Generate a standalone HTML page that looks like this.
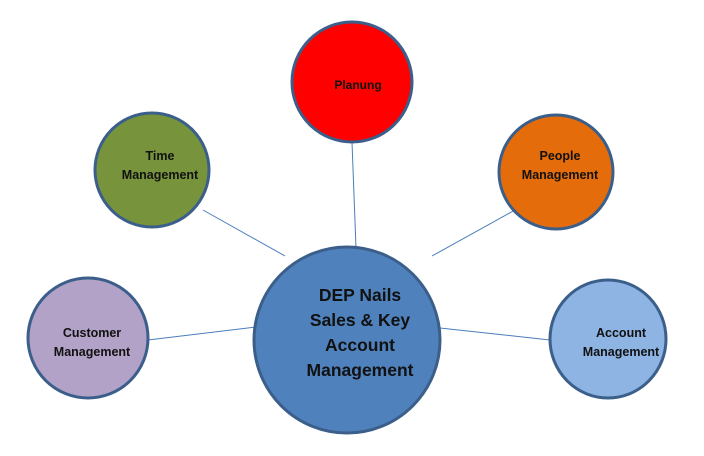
<!DOCTYPE html>
<html><head><meta charset="utf-8"><style>
html,body{margin:0;padding:0;background:#fff}
svg{display:block}
text{font-family:"Liberation Sans",sans-serif;fill:#111;text-anchor:middle;font-weight:bold}
</style></head><body>
<svg width="704" height="456" viewBox="0 0 704 456" xmlns="http://www.w3.org/2000/svg">
<g stroke="#4a7ebb" stroke-width="1">
<line x1="352" y1="142" x2="356" y2="248"/>
<line x1="203" y1="210" x2="285" y2="256"/>
<line x1="515" y1="210" x2="432" y2="256"/>
<line x1="148" y1="340" x2="256" y2="327"/>
<line x1="550" y1="340" x2="440" y2="328"/>
</g>
<g stroke="#3b5f8a" stroke-width="3">
<ellipse cx="352" cy="82" rx="60" ry="60" fill="#ff0000"/>
<ellipse cx="152" cy="170" rx="57" ry="57" fill="#77933c"/>
<ellipse cx="556" cy="172" rx="57" ry="57" fill="#e46c0a"/>
<ellipse cx="88" cy="338" rx="60" ry="60" fill="#b3a2c7"/>
<ellipse cx="608" cy="339" rx="58" ry="59" fill="#8eb4e3"/>
<ellipse cx="347" cy="340" rx="93" ry="93" fill="#4f81bd"/>
</g>
<text x="358" y="89" font-size="12" fill="#300">Planung</text>
<text x="160" y="160" font-size="12.5">Time</text>
<text x="160" y="179" font-size="12.5">Management</text>
<text x="560" y="160" font-size="12.5">People</text>
<text x="560" y="179" font-size="12.5">Management</text>
<text x="92" y="337" font-size="12.5">Customer</text>
<text x="92" y="356" font-size="12.5">Management</text>
<text x="621" y="337" font-size="12.5">Account</text>
<text x="621" y="356" font-size="12.5">Management</text>
<g font-size="17.5">
<text x="360" y="301">DEP Nails</text>
<text x="360" y="326">Sales &amp; Key</text>
<text x="360" y="351">Account</text>
<text x="360" y="376">Management</text>
</g>
</svg>
</body></html>
